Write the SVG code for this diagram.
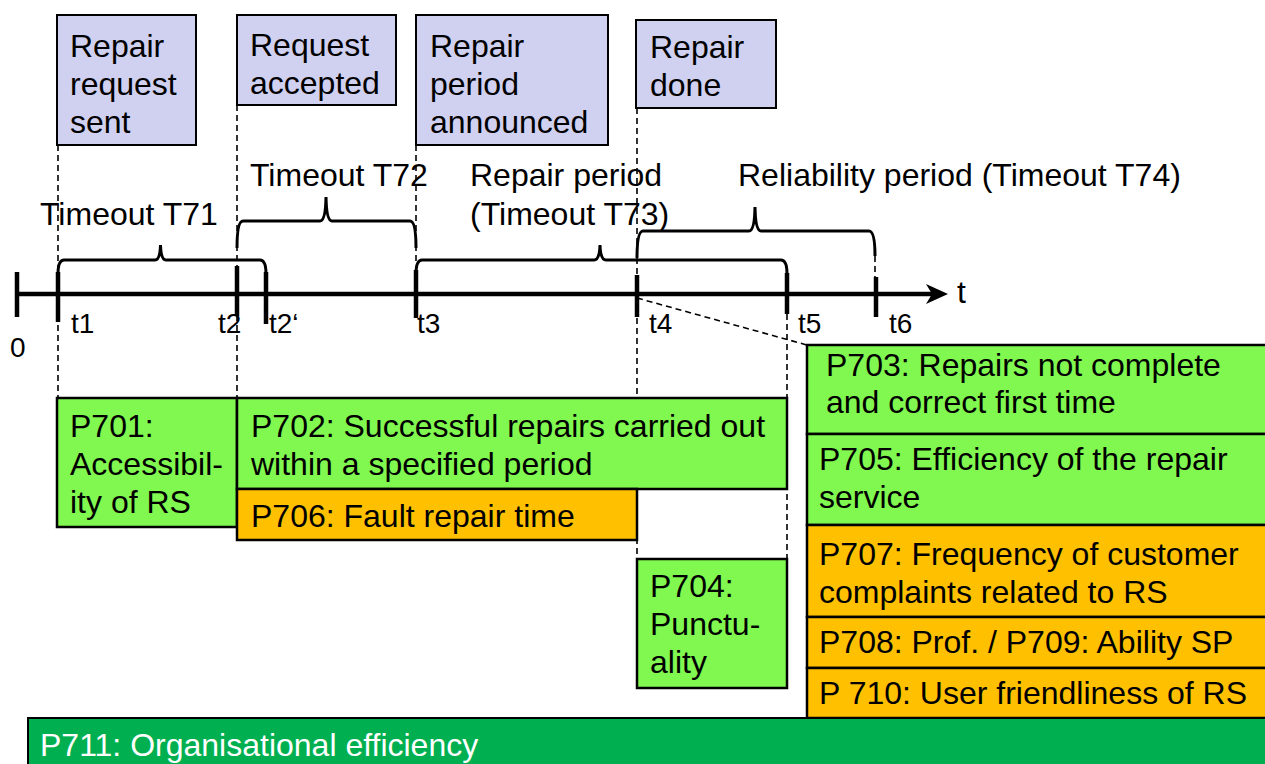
<svg xmlns="http://www.w3.org/2000/svg" width="1265" height="764" viewBox="0 0 1265 764">
<style>
text{font-family:"Liberation Sans",Arial,sans-serif;font-size:32px;fill:#000}
.lbl{font-size:28px}
.ev{fill:#d0d0f0;stroke:#000;stroke-width:2}
.g{fill:#80f850;stroke:#000;stroke-width:2.5}
.o{fill:#ffc000;stroke:#000;stroke-width:2.5}
.dg{fill:#00b050;stroke:#000;stroke-width:2}
.dash{stroke:#000;stroke-width:1.6;stroke-dasharray:6,4;fill:none}
.brace{stroke:#000;stroke-width:3;fill:none}
.tick{stroke:#000;stroke-width:4.5}
</style>
<rect width="1265" height="764" fill="#fff"/>
<g id="connectors">
<path class="dash" d="M58,145 V398"/>
<path class="dash" d="M237,105 V398"/>
<path class="dash" d="M416,145 V262"/>
<path class="dash" d="M637,108 V558"/>
<path class="dash" d="M787,314 V558"/>
<path class="dash" d="M875,256 V278"/>
<path class="dash" d="M637,298 L807,345"/>
</g>
<g id="braces">
<path class="brace" d="M58,274 Q58,260 64,260 H155 Q160,260 160.5,245 Q161,260 166,260 H260 Q266,260 266,274"/>
<path class="brace" d="M237,248 Q237,221 243,221 H320 Q325.5,221 326,197 Q326.5,221 332,221 H410 Q416,221 416,248"/>
<path class="brace" d="M416,274 Q416,260 422,260 H594 Q599.5,260 600,245 Q600.5,260 606,260 H781 Q787,260 787,274"/>
<path class="brace" d="M637,258 Q637,231 643,231 H749 Q754.5,231 755,207 Q755.5,231 761,231 H869 Q875,231 875,256"/>
<text x="40" y="225">Timeout T71</text>
<text x="250" y="186">Timeout T72</text>
<text x="470" y="186">Repair period</text>
<text x="470" y="225">(Timeout T73)</text>
<text x="738" y="186">Reliability period (Timeout T74)</text>
</g>
<g id="timeline">
<path d="M17,294 H932" stroke="#000" stroke-width="4.5"/>
<polygon points="926,284 948,294 926,304 932,294" fill="#000"/>
<path class="tick" d="M17,272 V317"/>
<path class="tick" d="M58,272 V322"/>
<path class="tick" d="M237,266 V316"/>
<path class="tick" d="M266,272 V324"/>
<path class="tick" d="M416,270 V318"/>
<path class="tick" d="M637,275 V317"/>
<path class="tick" d="M787,273 V314"/>
<path class="tick" d="M876,277 V317"/>
<text x="957" y="303">t</text>
<text class="lbl" x="10" y="357">0</text>
<text class="lbl" x="71" y="333">t1</text>
<text class="lbl" x="218" y="333">t2</text>
<text class="lbl" x="269" y="333">t2‘</text>
<text class="lbl" x="417" y="333">t3</text>
<text class="lbl" x="649" y="333">t4</text>
<text class="lbl" x="798" y="333">t5</text>
<text class="lbl" x="889" y="333">t6</text>
</g>
<g id="ev1"><rect class="ev" x="57" y="15" width="139" height="130"/><text x="70" y="57">Repair</text><text x="70" y="95">request</text><text x="70" y="133">sent</text></g>
<g id="ev2"><rect class="ev" x="237" y="15" width="159" height="90"/><text x="250" y="56">Request</text><text x="250" y="94">accepted</text></g>
<g id="ev3"><rect class="ev" x="416" y="15" width="192" height="130"/><text x="430" y="57">Repair</text><text x="430" y="95">period</text><text x="430" y="133">announced</text></g>
<g id="ev4"><rect class="ev" x="636" y="20" width="140" height="88"/><text x="650" y="58">Repair</text><text x="650" y="96">done</text></g>
<g id="p701"><rect class="g" x="57" y="398" width="180" height="129"/><text x="70" y="437">P701:</text><text x="70" y="475">Accessibil-</text><text x="70" y="513">ity of RS</text></g>
<g id="p702"><rect class="g" x="237" y="398" width="550" height="91"/><text x="251" y="437">P702: Successful repairs carried out</text><text x="251" y="475">within a specified period</text></g>
<g id="p706"><rect class="o" x="237" y="489" width="400" height="51"/><text x="251" y="527">P706: Fault repair time</text></g>
<g id="p704"><rect class="g" x="637" y="559" width="150" height="129"/><text x="650" y="597">P704:</text><text x="650" y="635">Punctu-</text><text x="650" y="673">ality</text></g>
<g id="p703"><rect class="g" x="807" y="345" width="470" height="89"/><text x="826" y="376">P703: Repairs not complete</text><text x="826" y="413">and correct first time</text></g>
<g id="p705"><rect class="g" x="807" y="434" width="470" height="91"/><text x="819" y="470">P705: Efficiency of the repair</text><text x="819" y="508">service</text></g>
<g id="p707"><rect class="o" x="807" y="525" width="470" height="92"/><text x="819" y="565">P707: Frequency of customer</text><text x="819" y="603">complaints related to RS</text></g>
<g id="p708"><rect class="o" x="807" y="617" width="470" height="51"/><text x="819" y="653">P708: Prof. / P709: Ability SP</text></g>
<g id="p710"><rect class="o" x="807" y="668" width="470" height="50"/><text x="819" y="704">P 710: User friendliness of RS</text></g>
<g id="p711"><rect class="dg" x="28" y="718" width="1250" height="60"/><text x="40" y="756" fill="#fff" style="fill:#fff">P711: Organisational efficiency</text></g>
</svg>
